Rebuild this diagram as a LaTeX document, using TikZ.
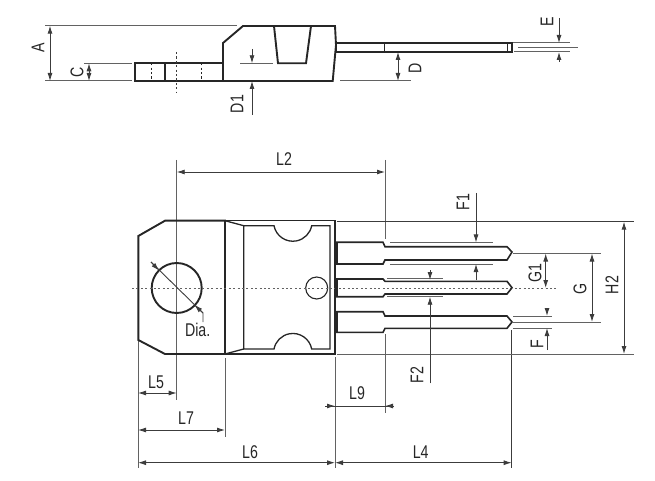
\documentclass[tikz,border=0pt]{standalone}
\usepackage{fontspec}
\setmainfont[FakeStretch=0.77]{Liberation Sans}
\usetikzlibrary{arrows.meta}
\definecolor{ink}{HTML}{262626}
\definecolor{dimc}{HTML}{3C3C3C}
\definecolor{extc}{HTML}{626262}
\tikzset{
  outline/.style={draw=ink,line width=1.9bp,line join=miter},
  medline/.style={draw=ink,line width=1.3bp},
  ext/.style={draw=extc,line width=1bp},
  dimline/.style={draw=dimc,line width=0.9bp},
  dim/.style={dimline,{Latex[length=8bp,width=5bp]}-{Latex[length=8bp,width=5bp]}},
  dimto/.style={dimline,-{Latex[length=8bp,width=5bp]}},
  hid/.style={draw=ink,line width=0.8bp,dash pattern=on 2.2bp off 2.2bp},
  center/.style={draw=extc,line width=1bp,dash pattern=on 2bp off 2.4bp},
  lab/.style={inner sep=0pt,text=ink,font=\fontsize{18.5}{19}\selectfont},
  rlab/.style={lab,rotate=90},
}
\begin{document}
\begin{tikzpicture}[x=1bp,y=-1bp]
\useasboundingbox (0,0) rectangle (655,481);
% --- side view
\draw[ext] (45,25.7) -- (237,25.7);
\draw[ext] (45,81) -- (132,81);
\draw[ext] (84,63.3) -- (132,63.3);
\draw[outline] (135,63.3) rectangle (223,81);
\draw[medline] (165,63.3) -- (165,81);
\draw[hid] (151,63.3) -- (151,81);
\draw[hid] (201,63.3) -- (201,81);
\draw[hid,draw=dimc] (176.7,52) -- (176.7,92);
\draw[outline] (223,81) -- (223,43) -- (243,26) -- (335,26) -- (336,45) -- (332.7,81) -- cycle;
\draw[outline] (274,26) -- (278,63.3) -- (306,63.3) -- (311,26);
\draw[medline] (336,43) rectangle (512,52);
\draw[medline,line width=1bp] (384,43) -- (384,52);
\draw[medline,line width=1bp] (507,43) -- (507,52);
\draw[dim] (50,25.7) -- (50,81);
\draw[dim] (89,63.3) -- (89,81);
\draw[ext] (240,63.3) -- (273,63.3);
\draw[dimto] (252,49) -- (252,63.3);
\draw[dimto] (252,115) -- (252,81);
\draw[dim] (398,52) -- (398,81);
\draw[ext] (340,81) -- (411,81);
\draw[ext] (513,43) -- (570,43);
\draw[ext] (518,47.7) -- (578,47.7);
\draw[ext] (514,52) -- (570,52);
\draw[dimto] (559,18) -- (559,43);
\draw[dimto] (559,62) -- (559,52);
\node[rlab] (lA) at (38,48) {A};
\node[rlab] (lC) at (77,72) {C};
\node[rlab] (lD1) at (237,104) {D1};
\node[rlab] (lD) at (415,68) {D};
\node[rlab] (lE) at (547,22) {E};
% --- front view: extension lines
\draw[ext] (176.7,160) -- (176.7,400);
\draw[ext] (385,160) -- (385,239);
\draw[ext] (385,334) -- (385,413);
\draw[ext] (138,340) -- (138,468);
\draw[ext] (225,358) -- (225,437);
\draw[ext] (335,357) -- (335,468);
\draw[dimline] (511.7,330) -- (511.7,468);
\draw[dimline] (337,221.7) -- (634,221.7);
\draw[ext] (337,354) -- (634,354);
% --- body
\draw[outline] (138.3,236) -- (165,220.7) -- (225,220.7) -- (225,354) -- (165,354) -- (138.3,340) -- cycle;
\draw[medline] (225,220.7) -- (335,220.7) -- (335,354) -- (225,354);
\draw[medline] (225,220.7) -- (243.7,225.7);
\draw[medline] (225,354) -- (243.7,349);
\draw[medline] (243.7,225.7) -- (274,225.7) arc[start angle=191,end angle=349,x radius=19.2,y radius=-19.2]
  -- (330,225.7) -- (330,349) -- (311.7,349) arc[start angle=11,end angle=169,x radius=19.2,y radius=-19.2]
  -- (243.7,349) -- cycle;
\draw[outline] (176.7,288) circle[radius=25];
\draw[medline,line width=1.1bp] (316.7,288) circle[radius=11];
\draw[center] (132,288) -- (556,288);
% --- leads
\draw[outline,line width=1.6bp] (336,242.3) -- (383,242.3) -- (385,246.7) -- (507,246.7) -- (512,252) -- (507,260) -- (385,260) -- (383,264) -- (336,264);
\draw[outline,line width=1.6bp] (336,279) -- (383,279) -- (385,281.3) -- (507,281.3) -- (512,287.7) -- (507,294) -- (385,294) -- (383,296.7) -- (336,296.7);
\draw[outline,line width=1.6bp] (336,311.7) -- (383,311.7) -- (385,316) -- (507,316) -- (512,322) -- (507,328.3) -- (385,328.3) -- (383,332.3) -- (336,332.3);
\draw[line width=2.2bp,draw=ink] (336.5,242.3) -- (336.5,264);
\draw[line width=2.2bp,draw=ink] (336.5,279) -- (336.5,296.7);
\draw[line width=2.2bp,draw=ink] (336.5,311.7) -- (336.5,332.3);
% --- F1, F2, F, G, G1, H2
\draw[ext] (390,242.5) -- (493,242.5);
\draw[ext] (390,264) -- (493,264);
\draw[dimto] (476,193) -- (476,242.5);
\draw[dimto] (476,280) -- (476,264);
\draw[ext] (387,278.5) -- (443,278.5);
\draw[ext] (387,296.7) -- (443,296.7);
\draw[dimto] (430,270) -- (430,280);
\draw[dimto] (430,383.3) -- (430,296.7);
\draw[ext] (513,253.5) -- (601,253.5);
\draw[ext] (513,322) -- (601,322);
\draw[ext] (513,316) -- (552,316);
\draw[ext] (513,328) -- (552,328);
\draw[dim] (545.7,253.5) -- (545.7,288);
\draw[dim] (592,253.5) -- (592,322);
\draw[dim] (624,221.7) -- (624,354);
\draw[dimto] (547,308) -- (547,316);
\draw[dimto] (547,350) -- (547,328);
% --- Dia
\draw[dimline] (151,262) -- (203,313) -- (203,322);
\draw[dimto] (151,262) -- (159,270.5);
\draw[dimto] (203,313) -- (194.5,305);
% --- horizontal dims
\draw[dim] (176.7,172) -- (385,172);
\draw[dim] (138,393) -- (176.7,393);
\draw[dim] (138,430) -- (225,430);
\draw[dim] (138,462.7) -- (335,462.7);
\draw[dim] (335,462.7) -- (511.7,462.7);
\draw[dimline] (325,406) -- (394,406);
\draw[dimto] (325,406) -- (335,406);
\draw[dimto] (394,406) -- (385,406);
% --- labels
\node[lab] (lL2) at (284,159) {L2};
\node[rlab] (lF1) at (463,202) {F1};
\node[rlab] (lG1) at (535,272.7) {G1};
\node[rlab] (lG) at (580,289) {G};
\node[rlab] (lH2) at (612,285) {H2};
\node[rlab] (lF) at (537,344) {F};
\node[rlab] (lF2) at (417,375) {F2};
\node[lab] (lDia) at (197.7,330) {Dia.};
\node[lab] (lL5) at (156,382) {L5};
\node[lab] (lL7) at (186,418) {L7};
\node[lab] (lL9) at (357,393) {L9};
\node[lab] (lL6) at (250,452) {L6};
\node[lab] (lL4) at (420.7,452) {L4};
\end{tikzpicture}
\end{document}
